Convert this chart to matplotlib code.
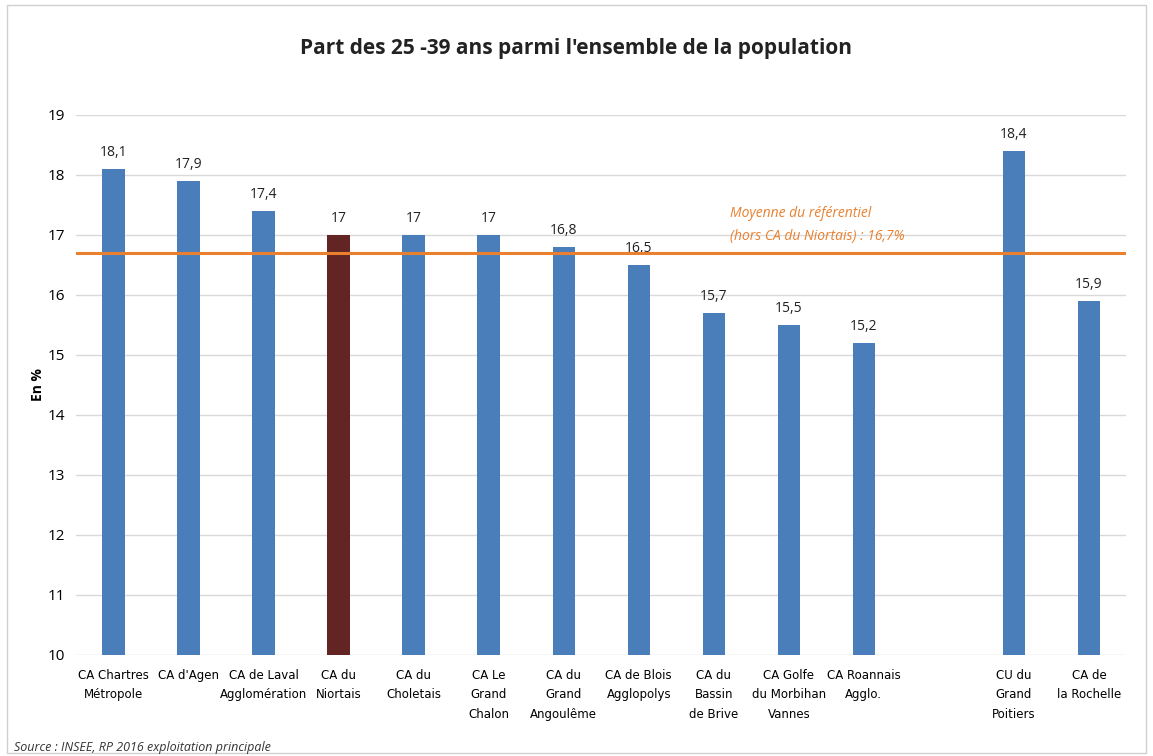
import matplotlib
matplotlib.use("Agg")
import matplotlib.pyplot as plt
from matplotlib.patches import Rectangle

categories = ["CA Chartres\nMétropole", "CA d'Agen", "CA de Laval\nAgglomération", "CA du\nNiortais",
              "CA du\nCholetais", "CA Le\nGrand\nChalon", "CA du\nGrand\nAngoulême", "CA de Blois\nAgglopolys",
              "CA du\nBassin\nde Brive", "CA Golfe\ndu Morbihan\nVannes", "CA Roannais\nAgglo.", "",
              "CU du\nGrand\nPoitiers", "CA de\nla Rochelle"]
values = [18.1, 17.9, 17.4, 17.0, 17.0, 17.0, 16.8, 16.5, 15.7, 15.5, 15.2, None, 18.4, 15.9]
value_labels = ["18,1", "17,9", "17,4", "17", "17", "17", "16,8", "16,5", "15,7", "15,5", "15,2", "", "18,4", "15,9"]
highlight = "CA du\nNiortais"
mean_value = 16.7
yticks = [10, 11, 12, 13, 14, 15, 16, 17, 18, 19]

plt.rcParams['font.family'] = ['Open Sans', 'DejaVu Sans']

fig = plt.figure(figsize=(11.53, 7.56), dpi=100)
fig.patches.append(Rectangle((0.006, 0.004), 0.988, 0.99, transform=fig.transFigure,
                             fill=False, edgecolor='#d0d0d0', linewidth=1.0))
ax = fig.add_axes([0.066, 0.1336, 0.911, 0.7144])

blue = '#4a7ebb'
dark = '#632523'
for i, (c, v) in enumerate(zip(categories, values)):
    if v is None:
        continue
    col = dark if c == highlight else blue
    ax.bar(i, v - 10, bottom=10, width=0.3, color=col, zorder=2)
    ax.text(i, v + 0.15, value_labels[i], ha='center', va='bottom', fontsize=10, color='#222222')

ax.axhline(mean_value, color='#e8802f', linewidth=2.2, zorder=3)
ax.text(8.22, 17.35, "Moyenne du référentiel", color='#e8802f', fontsize=10, style='italic',
        ha='left', va='center')
ax.text(8.22, 16.97, "(hors CA du Niortais) : 16,7%", color='#e8802f', fontsize=10, style='italic',
        ha='left', va='center')

ax.set_xlim(-0.5, len(categories) - 0.5)
ax.set_ylim(10, 19)
ax.set_yticks(yticks)
ax.set_yticklabels([str(t) for t in yticks], fontsize=11)
ax.set_xticks(range(len(categories)))
ax.set_xticklabels(categories, fontsize=8.5, family=['Liberation Sans Narrow', 'DejaVu Sans'],
                   linespacing=1.65, va='top')
ax.tick_params(axis='both', length=0, pad=8)
ax.tick_params(axis='x', pad=10)
for s in ax.spines.values():
    s.set_visible(False)
ax.grid(axis='y', color='#d9d9d9', linewidth=1, zorder=0)
ax.set_axisbelow(True)
ax.set_ylabel("En %", fontsize=10, fontweight='bold', labelpad=2)

fig.text(0.5, 0.936, "Part des 25 -39 ans parmi l'ensemble de la population", ha='center', va='center',
         fontsize=15, fontweight='bold', color='#222222')
fig.text(0.012, 0.002, "Source : INSEE, RP 2016 exploitation principale", ha='left', va='bottom',
         fontsize=9, style='italic', color='#333333')

fig.savefig("out.png", dpi=100)
